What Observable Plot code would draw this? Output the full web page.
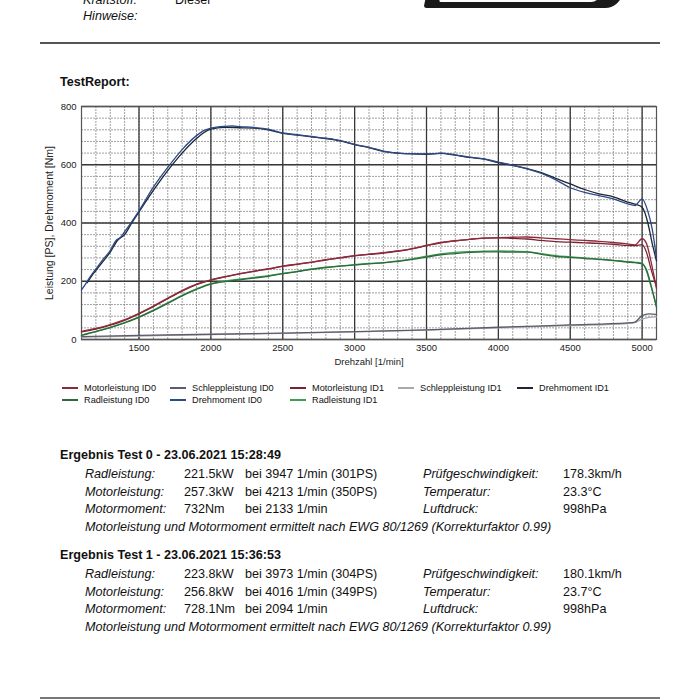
<!DOCTYPE html>
<html>
<head>
<meta charset="utf-8">
<script src="https://cdn.jsdelivr.net/npm/d3@7"></script>
<script src="https://cdn.jsdelivr.net/npm/@observablehq/plot@0.6"></script>
<style>
  html, body { margin: 0; padding: 0; background: #fff; }
  body { width: 700px; height: 700px; position: relative; overflow: hidden; font-family: "Liberation Sans", Arial, sans-serif; color: #111; }
  .abs { position: absolute; white-space: nowrap; }
  .it { font-style: italic; }
  .hdr { font-size: 12.6px; }
  .rule { position: absolute; left: 40px; width: 620px; height: 1.5px; background: #555; }
  .logo { position: absolute; left: 425px; top: -6px; width: 196px; height: 14px; background: #1a1a1a; border-radius: 0 0 18px 4px; transform: skewX(-12deg); }
  .logo2 { position: absolute; left: 440px; top: -6px; width: 160px; height: 8px; background: #fff; border-radius: 0 0 10px 2px; transform: skewX(-12deg); }
  .leg { position: absolute; font-size: 9.2px; display: flex; align-items: center; white-space: nowrap; }
  .leg i { display: inline-block; width: 16px; height: 1.6px; margin-right: 6px; }
  .res { position: absolute; font-size: 12.6px; white-space: nowrap; line-height: 16px; }
  .b { font-weight: bold; }
  #chart { position: absolute; left: 0; top: 96px; }
  #chart svg g[aria-label="y-axis label"] text { font-size: 10.5px; }
  #chart svg g[aria-label="x-axis label"] text { font-size: 9.5px; }
  #chart svg g[aria-label="x-axis tick label"] text, #chart svg g[aria-label="y-axis tick label"] text { font-size: 9.5px; }
</style>
</head>
<body>
<div class="abs hdr it" style="left:83px; top:-7px;">Kraftstoff:</div>
<div class="abs hdr" style="left:175px; top:-7px;">Diesel</div>
<div class="abs hdr it" style="left:83px; top:9px;">Hinweise:</div>
<div class="logo"></div><div class="logo2"></div>
<div class="rule" style="top:42px;"></div>
<div class="abs b" style="left:60px; top:75px; font-size:12.6px;">TestReport:</div>
<div id="chart"></div>
<div id="legend"></div>
<div id="results"></div>
<div class="rule" style="top:697px; height:2px; background:#777;"></div>
<script>
// ---------- data ----------
const rpmTq0 = [1100,1130,1160,1200,1250,1300,1340,1370,1400,1450,1500,1600,1700,1800,1900,1950,2000,2100,2150,2200,2300,2400,2500,2600,2700,2800,2900,3000,3100,3200,3300,3400,3500,3600,3700,3800,3900,4000,4100,4200,4300,4400,4500,4600,4700,4800,4900,4950,5000,5040,5070,5100];
const tq0    = [170,192,215,242,275,305,340,350,370,405,442,523,591,652,700,717,726,732,733,731,728,722,709,703,697,691,683,670,660,647,640,638,637,640,634,626,620,609,598,586,570,548,521,505,494,483,466,460,483,440,380,280];
const rpmTq1 = [1140,1170,1200,1250,1300,1350,1400,1450,1500,1600,1700,1800,1900,1950,2000,2094,2200,2300,2400,2500,2600,2700,2800,2900,3000,3100,3200,3300,3400,3500,3600,3700,3800,3900,4000,4100,4200,4300,4400,4500,4600,4700,4800,4900,4950,5000,5040,5070,5100];
const tq1    = [195,218,237,268,300,340,360,400,438,512,580,640,690,710,722,728,727,726,720,708,702,696,690,682,669,659,646,640,637,636,639,633,625,619,607,598,587,573,553,534,515,500,490,472,465,454,400,330,270];

const rpmP = [1100,1200,1300,1400,1500,1600,1700,1800,1900,2000,2100,2200,2300,2400,2500,2600,2700,2800,2900,3000,3100,3200,3300,3400,3500,3600,3700,3800,3900,4000,4100,4200,4300,4400,4500,4600,4700,4800,4900,4950,5000,5030,5060,5100];
const motor0 = [28,38,51,68,90,115,142,168,190,205,216,226,235,243,252,259,266,274,281,288,293,298,304,312,323,333,339,344,348,350,351,352,349,346,343,340,337,333,328,325,346,330,272,175];
const motor1 = [26,36,49,66,88,113,140,166,188,204,215,225,234,242,251,258,265,273,280,287,292,297,303,311,322,332,339,344,348,349,347,345,340,336,334,332,330,327,323,322,326,300,245,180];
const rad0   = [14,27,41,57,76,99,124,150,172,190,199,205,211,217,226,233,241,247,252,256,260,263,268,275,283,291,295,299,301,301,300,300,292,285,282,278,275,271,266,264,260,240,190,110];
const rad1   = [15,28,42,58,78,101,126,152,174,192,201,207,213,219,227,234,242,248,253,257,261,264,270,277,286,294,299,302,303,304,303,302,295,288,284,280,276,272,267,265,262,235,185,115];

const rpmS = [1100,1500,2000,2500,3000,3500,4000,4500,4900,4950,5000,5050,5100];
const schlepp0 = [10,14,18,22,27,33,42,50,57,60,82,88,86];
const schlepp1 = [8,12,17,21,26,32,40,48,55,58,70,76,78];

const seriesNames = ["Motorleistung ID0","Schleppleistung ID0","Motorleistung ID1","Schleppleistung ID1","Drehmoment ID1","Radleistung ID0","Drehmoment ID0","Radleistung ID1"];
const seriesColors = ["#8e2b3b","#5c5c6c","#7a2232","#a9a9a9","#1f2533","#2b6a3b","#2c4a86","#3f9e4f"];

const xTicks = [1500,2000,2500,3000,3500,4000,4500,5000];
const yTicks = [0,200,400,600,800];
const minorX = d3.range(1100, 5101, 100);
const minorY = d3.range(0, 801, 40);

// ---------- build table ----------
function rows(name, xs, ys) { return xs.map((x, i) => ({series: name, rpm: x, v: ys[i]})); }
const data = [
  ...rows("Schleppleistung ID1", rpmS, schlepp1),
  ...rows("Schleppleistung ID0", rpmS, schlepp0),
  ...rows("Radleistung ID1", rpmP, rad1),
  ...rows("Radleistung ID0", rpmP, rad0),
  ...rows("Motorleistung ID1", rpmP, motor1),
  ...rows("Motorleistung ID0", rpmP, motor0),
  ...rows("Drehmoment ID1", rpmTq1, tq1),
  ...rows("Drehmoment ID0", rpmTq0, tq0)
];

const chart = Plot.plot({
  width: 700, height: 273,
  marginLeft: 81, marginRight: 44, marginTop: 10, marginBottom: 30,
  style: {fontFamily: "'Liberation Sans', Arial, sans-serif", fontSize: "9.5px", background: "transparent", color: "#222"},
  x: {domain: [1100, 5100], ticks: xTicks, tickSize: 0, tickPadding: 5, tickFormat: d => String(d), label: "Drehzahl [1/min]", labelAnchor: "center", labelOffset: 25, labelArrow: "none"},
  y: {domain: [0, 800], ticks: yTicks, tickSize: 0, tickPadding: 5, tickFormat: d => String(d), label: "Leistung [PS], Drehmoment [Nm]", labelAnchor: "center", labelOffset: 36, labelArrow: "none"},
  color: {domain: seriesNames, range: seriesColors},
  marks: [
    Plot.ruleX(minorX, {stroke: "#777", strokeWidth: 0.7, strokeDasharray: "2,1"}),
    Plot.ruleY(minorY, {stroke: "#777", strokeWidth: 0.7, strokeDasharray: "2,1"}),
    Plot.ruleX(xTicks, {stroke: "#383838", strokeWidth: 1.3}),
    Plot.ruleY(yTicks, {stroke: "#383838", strokeWidth: 1.3}),
    Plot.frame({stroke: "#555", strokeWidth: 1.2}),
    Plot.line(data, {x: "rpm", y: "v", z: "series", stroke: "series", strokeWidth: 1.3, curve: "monotone-x"})
  ]
});
document.getElementById("chart").appendChild(chart);

// ---------- legend ----------
const legendPos = [
  [62,389],[170,389],[290,389],[398,389],[517,389],
  [62,401],[170,401],[290,401]
];
const legend = document.getElementById("legend");
seriesNames.forEach((n, i) => {
  const d = document.createElement("div");
  d.className = "leg";
  d.style.left = legendPos[i][0] + "px";
  d.style.top = (legendPos[i][1] - 6) + "px";
  d.innerHTML = `<i style="background:${seriesColors[i]}"></i><span>${n}</span>`;
  legend.appendChild(d);
});

// ---------- results ----------
const tests = [
  {title: "Ergebnis Test 0 - 23.06.2021 15:28:49", top: 455,
   rows: [["Radleistung:","221.5kW","bei 3947 1/min (301PS)","Prüfgeschwindigkeit:","178.3km/h"],
          ["Motorleistung:","257.3kW","bei 4213 1/min (350PS)","Temperatur:","23.3°C"],
          ["Motormoment:","732Nm","bei 2133 1/min","Luftdruck:","998hPa"]]},
  {title: "Ergebnis Test 1 - 23.06.2021 15:36:53", top: 555,
   rows: [["Radleistung:","223.8kW","bei 3973 1/min (304PS)","Prüfgeschwindigkeit:","180.1km/h"],
          ["Motorleistung:","256.8kW","bei 4016 1/min (349PS)","Temperatur:","23.7°C"],
          ["Motormoment:","728.1Nm","bei 2094 1/min","Luftdruck:","998hPa"]]}
];
const note = "Motorleistung und Motormoment ermittelt nach EWG 80/1269 (Korrekturfaktor 0.99)";
const res = document.getElementById("results");
const colX = [85, 184, 245, 423, 563];
function addText(txt, x, yc, cls) {
  const d = document.createElement("div");
  d.className = "res " + (cls || "");
  d.textContent = txt;
  d.style.left = x + "px";
  d.style.top = (yc - 8) + "px";
  res.appendChild(d);
}
tests.forEach(t => {
  addText(t.title, 60, t.top, "b");
  t.rows.forEach((r, j) => {
    const yc = t.top + 19 + j * 17.7;
    addText(r[0], colX[0], yc, "it");
    addText(r[1], colX[1], yc, "");
    addText(r[2], colX[2], yc, "");
    addText(r[3], colX[3], yc, "it");
    addText(r[4], colX[4], yc, "");
  });
  addText(note, colX[0], t.top + 19 + 3 * 17.7, "it");
});
</script>
</body>
</html>
